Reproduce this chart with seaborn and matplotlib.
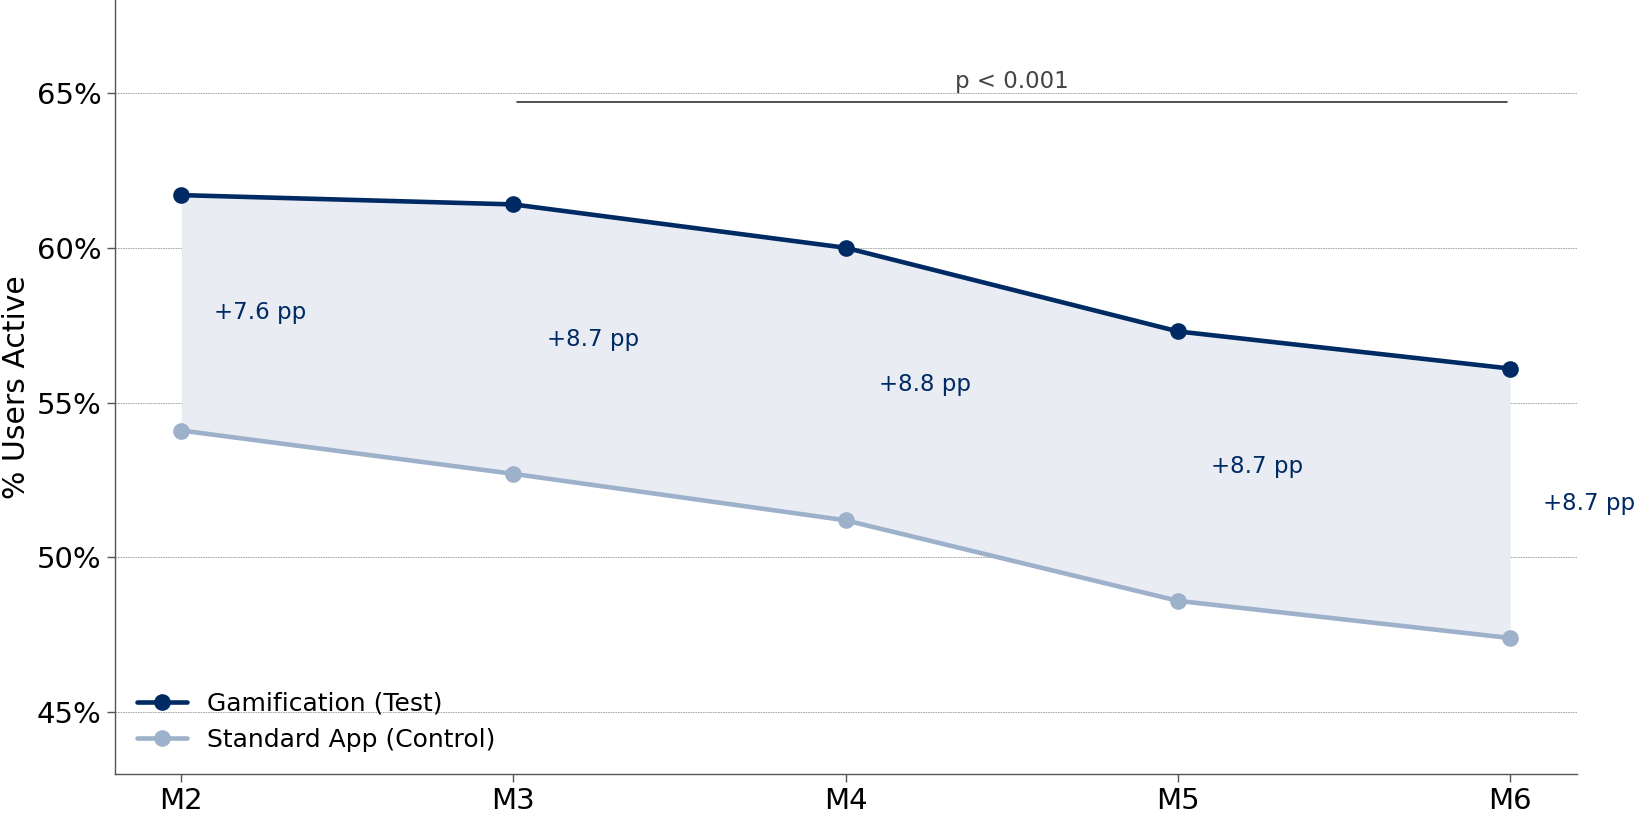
import numpy as np
import pandas as pd
import seaborn as sns
import matplotlib.pyplot as plt
from matplotlib.ticker import FuncFormatter

months = ["M2", "M3", "M4", "M5", "M6"]
test_rate = [61.7, 61.4, 60.0, 57.3, 56.1]
control_rate = [54.1, 52.7, 51.2, 48.6, 47.4]
test_name = "Gamification (Test)"
control_name = "Standard App (Control)"
p_label = "p < 0.001"

navy = "#002A64"
steel = "#9DB1CA"

df = pd.DataFrame({
    "month": months * 2,
    "rate": test_rate + control_rate,
    "group": [test_name] * len(months) + [control_name] * len(months),
})

sns.set_style("white")
plt.rcParams["font.family"] = ["DejaVu Sans"]
plt.rcParams["text.color"] = "black"
plt.rcParams["axes.labelcolor"] = "black"
plt.rcParams["xtick.color"] = "black"
plt.rcParams["ytick.color"] = "black"

fig = plt.figure(figsize=(16.35, 8.16), dpi=100)
ax = fig.add_axes([0.0702, 0.0511, 0.8941, 0.9489])

x = np.arange(len(months))
ax.fill_between(x, control_rate, test_rate, color="#E9EDF3", zorder=1, linewidth=0)

for name, col in [(test_name, navy), (control_name, steel)]:
    sns.lineplot(data=df[df["group"] == name], x="month", y="rate", ax=ax,
                 color=col, linewidth=3.3, marker="o", markersize=12,
                 markeredgecolor=col, markeredgewidth=0, label=name, zorder=3)

# gap annotations
for i, (t, c) in enumerate(zip(test_rate, control_rate)):
    ax.text(i + 0.1, (t + c) / 2, f"+{t - c:.1f} pp", ha="left", va="center",
            fontsize=16.5, color=navy)

# significance bar
ax.plot([1.01, 3.99], [64.7, 64.7], color="#333333", linewidth=1.2, zorder=2)
ax.text(2.5, 65.0, p_label, ha="center", va="bottom", fontsize=16.5, color="#444444")

ax.set_xlim(-0.2, 4.2)
ax.set_ylim(43, 68)
ax.set_yticks([45, 50, 55, 60, 65])
ax.yaxis.set_major_formatter(FuncFormatter(lambda v, _: f"{v:.0f}%"))
ax.yaxis.grid(True, linestyle=(0, (2, 1)), linewidth=0.6, color="#999999")
ax.xaxis.grid(False)
ax.set_axisbelow(True)

ax.set_xlabel("")
ax.set_ylabel("% Users Active", fontsize=21.5)
ax.tick_params(axis="both", labelsize=21, length=6, width=1, color="#555555",
               labelcolor="black", left=True, bottom=True)

for side in ["top", "right"]:
    ax.spines[side].set_visible(False)
for side in ["left", "bottom"]:
    ax.spines[side].set_color("#555555")
    ax.spines[side].set_linewidth(1)

leg = ax.legend(loc="lower left", frameon=False, fontsize=18, handlelength=2.0)
for t in leg.get_texts():
    t.set_color("black")

plt.savefig("out.png", dpi=100)
plt.close("all")
